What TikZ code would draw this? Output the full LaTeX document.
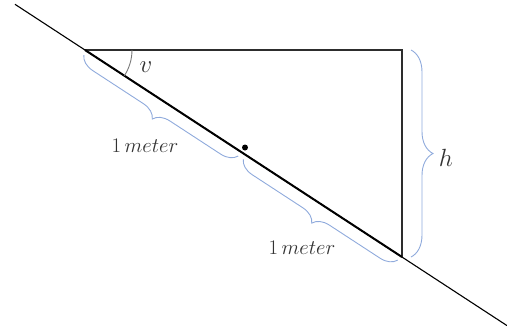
\documentclass[tikz,border=0pt]{standalone}
\usetikzlibrary{decorations.pathreplacing,calc}
\definecolor{braceblue}{RGB}{143,170,220}
\definecolor{arcgray}{RGB}{120,120,120}
\definecolor{linegray}{RGB}{45,45,45}
\definecolor{textgray}{RGB}{50,50,50}
\begin{document}
\begin{tikzpicture}[x=1pt,y=-1pt,
  thinline/.style={draw=linegray,line width=1.2pt},
  slopeline/.style={draw=black,line width=1.1pt},
  hypline/.style={draw=black,line width=2pt},
  bluebrace/.style={draw=braceblue,line width=0.9pt,decorate,decoration={brace,amplitude=#1}},
  lbl/.style={font=\fontsize{19.5}{22}\selectfont,inner sep=0pt,text=textgray},
  biglbl/.style={font=\fontsize{23}{26}\selectfont,inner sep=0pt,text=textgray}
]
\useasboundingbox (0,0) rectangle (507,333);
\coordinate (L1) at (15,4.3);
\coordinate (L2) at (507,325.6);
\coordinate (A) at (85,50);
\coordinate (B) at (402,257);
\coordinate (C) at (402,50);
\draw[slopeline] (L1) -- (L2);
\draw[thinline] (A) -- (C) -- (B);
\draw[hypline] (A) -- (B);
% angle arc
\draw[draw=arcgray,line width=0.9pt] ($(A)+(47,0)$) arc[start angle=0,end angle=33.1,radius=47];
\node[biglbl] (v) at (146,67) {$v$};
% dot
\fill[black] (245,147.5) circle (3);
% braces along hypotenuse
\coordinate (Bs) at ($(A)!0.005!(B)$);
\coordinate (M1) at ($(A)!0.492!(B)$);
\coordinate (M2) at ($(A)!0.508!(B)$);
\coordinate (Be) at ($(A)!0.995!(B)$);
\draw[bluebrace=16,decoration={mirror,raise=5}] (Bs) -- (M1);
\draw[bluebrace=16,decoration={mirror,raise=5}] (M2) -- (Be);
\node[lbl] (m1) at (145,146) {$1\,meter$};
\node[lbl] (m2) at (302,248) {$1\,meter$};
% h brace
\coordinate (H1) at (411,50);
\coordinate (H2) at (411,257);
\draw[bluebrace=22] (H1) -- (H2);
\node[biglbl] (h) at (446,158) {$h$};
\end{tikzpicture}
\end{document}
